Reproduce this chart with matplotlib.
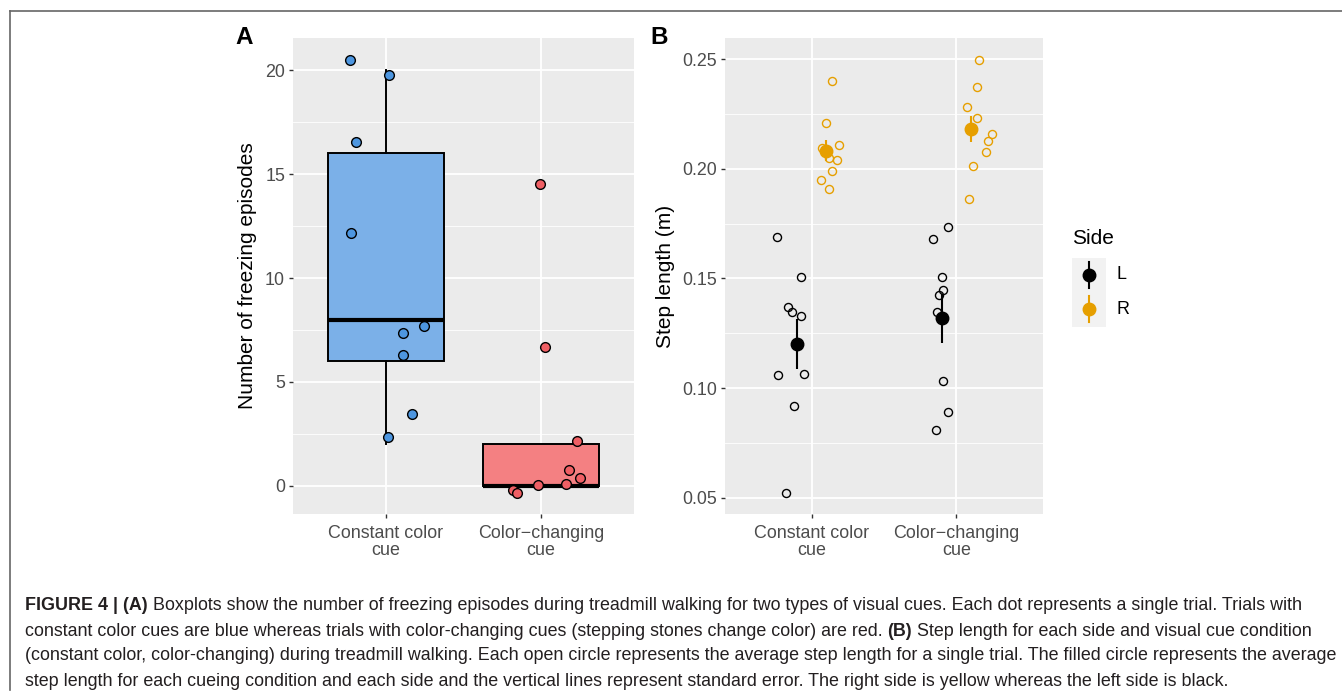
import matplotlib
matplotlib.use("Agg")
import matplotlib.pyplot as plt
from matplotlib.patches import Rectangle
from matplotlib.lines import Line2D

plt.rcParams["font.family"] = ["Liberation Sans", "DejaVu Sans"]

# panel A: freezing episodes (jittered points as drawn)
categories = ["Constant color\ncue", "Color\u2212changing\ncue"]
blue_x = [0.765, 1.020, 0.807, 0.774, 1.248, 1.107, 1.111, 1.167, 1.011]
blue_y = [20.51, 19.80, 16.54, 12.19, 7.67, 7.34, 6.31, 3.47, 2.33]
red_x = [1.993, 2.024, 2.235, 2.180, 2.250, 2.160, 1.980, 1.820, 1.846]
red_y = [14.53, 6.66, 2.16, 0.75, 0.35, 0.08, 0.03, -0.22, -0.35]
# box stats: whisker low, q1, median, q3, whisker high
box_const = [2.0, 6.0, 8.0, 16.0, 20.0]
box_change = [0.0, 0.0, 0.0, 2.0, 2.0]

# panel B: step length per trial
left_x1 = [0.758, 0.923, 0.837, 0.865, 0.923, 0.769, 0.944, 0.874, 0.823]
left_y1 = [0.1690, 0.1506, 0.1369, 0.1348, 0.1327, 0.1061, 0.1064, 0.0917, 0.0524]
right_x1 = [1.140, 1.098, 1.068, 1.189, 1.121, 1.172, 1.138, 1.061, 1.121]
right_y1 = [0.2401, 0.2208, 0.2093, 0.2108, 0.2049, 0.2039, 0.1989, 0.1948, 0.1907]
left_x2 = [1.839, 1.944, 1.900, 1.911, 1.881, 1.869, 1.909, 1.946, 1.858]
left_y2 = [0.1681, 0.1733, 0.1505, 0.1447, 0.1423, 0.1347, 0.1031, 0.0890, 0.0811]
right_x2 = [2.156, 2.140, 2.075, 2.140, 2.245, 2.219, 2.203, 2.119, 2.091]
right_y2 = [0.2497, 0.2373, 0.2281, 0.2231, 0.2160, 0.2126, 0.2077, 0.2013, 0.1863]
left_mean = [0.1201, 0.1318]
left_se = [0.0114, 0.0112]
right_mean = [0.2082, 0.2181]
right_se = [0.0047, 0.0059]

BLUE_PT, BLUE_BOX = "#4d96e0", "#7bb0e8"
RED_PT, RED_BOX = "#ef5f64", "#f48082"
ORANGE = "#e69f00"
PANEL = "#ebebeb"
W, H = 1342, 693
TOP, BOT = 38, 514


def ggstyle(ax, major, minor):
    ax.set_facecolor(PANEL)
    for s in ax.spines.values():
        s.set_visible(False)
    ax.set_yticks(major)
    ax.set_yticks(minor, minor=True)
    ax.grid(True, which="major", color="white", lw=1.3)
    ax.grid(True, which="minor", axis="y", color="white", lw=0.6)
    ax.tick_params(which="minor", length=0)
    ax.tick_params(which="major", length=3.2, width=1, color="#333333",
                   labelcolor="#4d4d4d", labelsize=12.9, pad=2.5)
    ax.tick_params(axis="x", pad=4.5)
    ax.set_axisbelow(True)


def cats(ax):
    ax.set_xlim(0.4, 2.6)
    ax.set_xticks([1, 2])
    ax.set_xticklabels(categories, linespacing=1.05)


fig = plt.figure(figsize=(W / 100, H / 100), dpi=100)

# panel A
axA = fig.add_axes([293 / W, 1 - BOT / H, 341 / W, (BOT - TOP) / H])
ggstyle(axA, [0, 5, 10, 15, 20], [2.5, 7.5, 12.5, 17.5])
axA.set_ylim(-1.36, 21.56)
stats = []
for b in (box_const, box_change):
    stats.append(dict(whislo=b[0], q1=b[1], med=b[2], q3=b[3], whishi=b[4], fliers=[]))
bp = axA.bxp(stats, positions=[1, 2], widths=0.75, patch_artist=True,
             showcaps=False, showfliers=False,
             boxprops=dict(lw=1.4, edgecolor="black"),
             whiskerprops=dict(lw=1.4, color="black"),
             medianprops=dict(lw=3, color="black"))
bp["boxes"][0].set_facecolor(BLUE_BOX)
bp["boxes"][1].set_facecolor(RED_BOX)
cats(axA)
axA.plot(blue_x, blue_y, "o", ms=7, mfc=BLUE_PT, mec="black", mew=1, zorder=4)
axA.plot(red_x, red_y, "o", ms=7, mfc=RED_PT, mec="black", mew=1, zorder=4)
axA.set_ylabel("Number of freezing episodes", fontsize=15)
axA.yaxis.set_label_coords(-0.105, 0.5)

# panel B
axB = fig.add_axes([725 / W, 1 - BOT / H, 318 / W, (BOT - TOP) / H])
ggstyle(axB, [0.05, 0.10, 0.15, 0.20, 0.25], [0.075, 0.125, 0.175, 0.225])
axB.set_yticklabels(["0.05", "0.10", "0.15", "0.20", "0.25"])
axB.set_ylim(0.0426, 0.2596)
cats(axB)
for xs, ys, c in [(left_x1, left_y1, "black"), (left_x2, left_y2, "black"),
                  (right_x1, right_y1, ORANGE), (right_x2, right_y2, ORANGE)]:
    axB.plot(xs, ys, "o", ms=5.8, mfc="none", mec=c, mew=1, zorder=3)
axB.errorbar([0.9, 1.9], left_mean, yerr=left_se, fmt="o", ms=9,
             color="black", elinewidth=1.5, capsize=0, zorder=4)
axB.errorbar([1.1, 2.1], right_mean, yerr=right_se, fmt="o", ms=9,
             color=ORANGE, elinewidth=1.5, capsize=0, zorder=4)
axB.set_ylabel("Step length (m)", fontsize=15)
axB.yaxis.set_label_coords(-0.158, 0.5)

# legend
fig.text(1072 / W, 1 - 238 / H, "Side", fontsize=15, va="center", ha="left")
fig.patches.append(Rectangle((1072 / W, 1 - 327 / H), 34 / W, 69 / H,
                             transform=fig.transFigure, facecolor="#f2f2f2",
                             edgecolor="none", zorder=0))
for yc, c, lab in [(275, "black", "L"), (309, ORANGE, "R")]:
    fig.add_artist(Line2D([1089 / W, 1089 / W], [1 - (yc - 13) / H, 1 - (yc + 13) / H],
                          color=c, lw=1.5, transform=fig.transFigure))
    fig.add_artist(Line2D([1089 / W], [1 - yc / H], marker="o", ms=9, color=c,
                          transform=fig.transFigure))
    fig.text(1116 / W, 1 - yc / H, lab, fontsize=12.9, va="center", ha="left")

# panel letters
fig.text(244 / W, 1 - 38 / H, "A", fontsize=17.5, fontweight="bold", va="center", ha="center")
fig.text(659 / W, 1 - 38 / H, "B", fontsize=17.5, fontweight="bold", va="center", ha="center")

# frame
fig.add_artist(Line2D([9.5 / W, 9.5 / W], [1 - 10.5 / H, 1 - 690 / H], color="#666666",
                      lw=1.2, transform=fig.transFigure))
fig.add_artist(Line2D([9.5 / W, 1.0], [1 - 10.5 / H, 1 - 10.5 / H], color="#666666",
                      lw=1.2, transform=fig.transFigure))

# caption with bold runs
caption = [
    [("FIGURE 4 | (A)", True), (" Boxplots show the number of freezing episodes during treadmill walking for two types of visual cues. Each dot represents a single trial. Trials with", False)],
    [("constant color cues are blue whereas trials with color-changing cues (stepping stones change color) are red. ", False), ("(B)", True), (" Step length for each side and visual cue condition", False)],
    [("(constant color, color-changing) during treadmill walking. Each open circle represents the average step length for a single trial. The filled circle represents the average", False)],
    [("step length for each cueing condition and each side and the vertical lines represent standard error. The right side is yellow whereas the left side is black.", False)],
]
line_y = [606, 631, 656, 681]
renderer = fig.canvas.get_renderer()
for runs, yc in zip(caption, line_y):
    x = 25
    for txt, bold in runs:
        t = fig.text(x / W, 1 - yc / H, txt, fontsize=12.9, color="#231f20",
                     fontweight="bold" if bold else "normal", va="center", ha="left")
        bb = t.get_window_extent(renderer)
        x += bb.width

fig.savefig("out.png", dpi=100)
